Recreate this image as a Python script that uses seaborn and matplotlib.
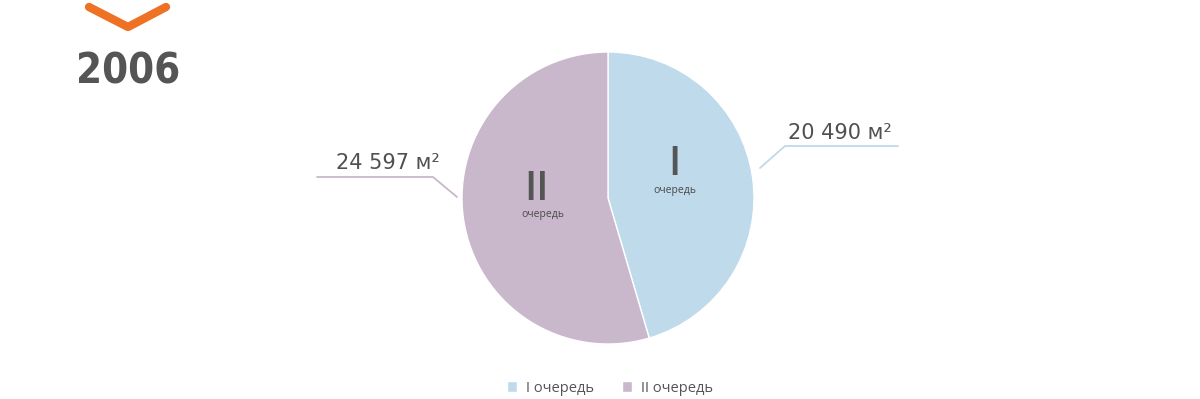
import matplotlib
matplotlib.use("Agg")
import matplotlib.pyplot as plt
import seaborn as sns

sns.set_theme(style="white")
plt.rcParams['font.family'] = ['Open Sans', 'DejaVu Sans']

categories = ["I очередь", "II очередь"]
values = [20490, 24597]
value_labels = ["20 490 м²", "24 597 м²"]
inner_numerals = ["I", "II"]
year = "2006"
colors = ["#BEDAEB", "#C9B8CB"]

W, H = 1200, 399
fig = plt.figure(figsize=(12, 3.99), dpi=100)
ax = fig.add_axes([0, 0, 1, 1])

def Y(y):
    return H - y

wedges, _ = ax.pie(values, colors=colors, startangle=90, counterclock=False,
                   center=(608, Y(198)), radius=146,
                   wedgeprops=dict(edgecolor="white", linewidth=1))
ax.set_xlim(0, W)
ax.set_ylim(0, H)
ax.set_aspect("equal")
ax.axis("off")

txt = "#4a4a4a"
# inner labels
ax.text(674, Y(165), inner_numerals[0], ha="center", va="center", fontsize=29,
        color="#555555", fontweight="semibold")
ax.text(675, Y(191), "очередь", ha="center", va="center", fontsize=7.5, color=txt)
ax.text(537, Y(190), inner_numerals[1], ha="center", va="center", fontsize=29,
        color="#555555", fontweight="semibold")
ax.text(543, Y(215), "очередь", ha="center", va="center", fontsize=7.5, color=txt)

# leader lines and value labels
ax.plot([760, 785, 898], [Y(168), Y(146), Y(146)], color=colors[0], lw=1.3)
ax.text(840, Y(133), value_labels[0], ha="center", va="center", fontsize=15, color="#505050",
        family=["DejaVu Sans"])
ax.plot([317, 433, 457], [Y(177), Y(177), Y(197)], color=colors[1], lw=1.3)
ax.text(388, Y(163), value_labels[1], ha="center", va="center", fontsize=15, color="#505050",
        family=["DejaVu Sans"])

# logo
ax.plot([89, 128, 166], [Y(7), Y(27), Y(7)], color="#EE7124", lw=6,
        solid_capstyle="round", solid_joinstyle="round")
ax.text(128, Y(71), year, ha="center", va="center", fontsize=30, fontweight="bold",
        fontstretch="condensed", color="#555555", family=["DejaVu Sans"])

leg = ax.legend(wedges, categories, loc="center", bbox_to_anchor=(610 / W, 1 - 388 / H),
                ncol=2, frameon=False, fontsize=10.5, handlelength=0.7, handleheight=0.7,
                columnspacing=1.9, handletextpad=0.6)
for t in leg.get_texts():
    t.set_color("#555555")

fig.savefig("out.png", dpi=100, facecolor="white")
